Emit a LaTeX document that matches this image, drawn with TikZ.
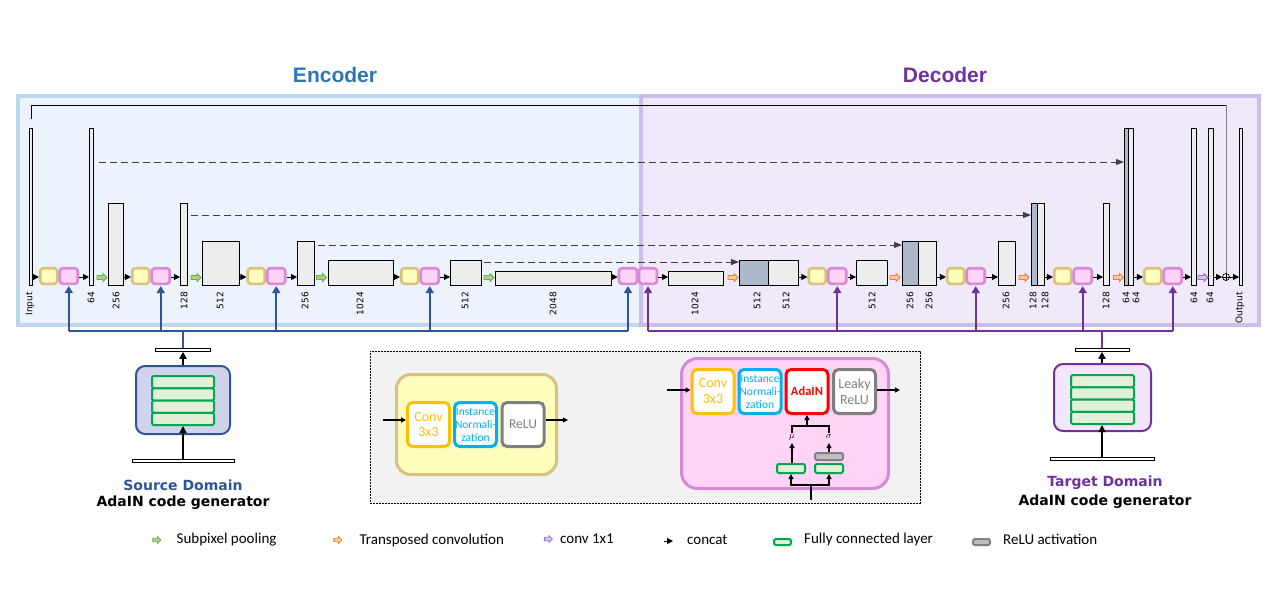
\documentclass[tikz,border=0pt]{standalone}
\usepackage{fontspec}
\setmainfont{Carlito}
\newfontfamily\dvfont{DejaVu Sans}
\newfontfamily\lsfont{Liberation Sans}
\usepackage{tikz}
\usetikzlibrary{shapes,arrows.meta,positioning,calc}
\definecolor{encfill}{RGB}{236,243,253}
\definecolor{encline}{RGB}{189,215,238}
\definecolor{decfill}{RGB}{239,233,249}
\definecolor{decline}{RGB}{204,190,235}
\definecolor{encblue}{RGB}{46,117,182}
\definecolor{decpurple}{RGB}{112,48,160}
\definecolor{fbblue}{RGB}{47,85,151}
\definecolor{blkfill}{RGB}{237,237,237}
\definecolor{catfill}{RGB}{173,185,202}
\definecolor{skipgray}{RGB}{64,64,64}
\definecolor{opyfill}{RGB}{255,255,189}
\definecolor{opyline}{RGB}{216,194,125}
\definecolor{oppfill}{RGB}{255,212,246}
\definecolor{oppline}{RGB}{216,138,216}
\definecolor{poolfill}{RGB}{169,209,142}
\definecolor{poolline}{RGB}{112,173,71}
\definecolor{upfill}{RGB}{248,203,173}
\definecolor{upline}{RGB}{237,125,49}
\definecolor{onexfill}{RGB}{214,196,244}
\definecolor{onexline}{RGB}{150,110,210}
\definecolor{fcfill}{RGB}{226,240,217}
\definecolor{fcline}{RGB}{0,166,80}
\definecolor{actfill}{RGB}{191,191,191}
\definecolor{actline}{RGB}{128,128,128}
\definecolor{srcfill}{RGB}{207,212,236}
\definecolor{tgtfill}{RGB}{241,230,250}
\definecolor{leggray}{RGB}{242,242,242}
\definecolor{convc}{RGB}{255,192,0}
\definecolor{normc}{RGB}{0,176,240}
\definecolor{reluc}{RGB}{128,128,128}
\definecolor{adainc}{RGB}{255,0,0}
\newcommand{\numfont}{\dvfont\fontsize{9}{9}\selectfont}
\newcommand{\genfont}{\dvfont\bfseries\fontsize{14}{14}\selectfont}

\begin{document}
\begin{tikzpicture}[x=1pt, y=-1pt,
    bg/.style={draw=#1line, fill=#1fill, line width=3.5pt, inner sep=0pt, anchor=north west},
    blk/.style={draw, line width=0.8pt, fill=blkfill, inner sep=0pt, anchor=south west},
    opy/.style={draw=opyline, fill=opyfill, line width=2.6pt, rounded corners=3pt, minimum width=17pt, minimum height=15.6pt, inner sep=0pt},
    opp/.style={opy, draw=oppline, fill=oppfill, minimum width=18pt},
    cat/.style={line width=0.8pt, -{Triangle[length=6pt, width=6pt]}},
    skip/.style={draw=skipgray, line width=0.8pt, dash pattern=on 7pt off 4pt, -{Triangle[length=8pt, width=6pt]}},
    num/.style={font=\numfont, rotate=90, anchor=east, inner sep=0pt},
    harr/.style={single arrow, draw=#1line, fill=#1fill, line width=0.8pt, minimum height=10pt, inner sep=1.6pt, single arrow head extend=2pt},
    fb/.style={draw=#1, line width=2pt},
    fbarr/.style={fb=#1, -{Triangle[length=7pt, width=8pt]}, shorten >=1pt},
    genbox/.style={draw=#1, line width=2pt, rounded corners=9pt, minimum width=94pt, minimum height=68pt},
    fcrow/.style={draw=fcline, fill=fcfill, line width=2pt, rounded corners=1.5pt, minimum width=62pt, minimum height=12.25pt, inner sep=0pt},
    bar/.style={draw, fill=white, line width=0.6pt, minimum height=3pt, inner sep=0pt},
    genarr/.style={line width=1.6pt, -{Triangle[length=7pt, width=7pt]}},
    ibox/.style={draw=#1, text=#1, fill=white, line width=3pt, rounded corners=5pt, minimum width=42pt, minimum height=44pt, inner sep=0pt, align=center, font=\fontsize{14}{16}\selectfont},
    smarr/.style={line width=1.4pt, -{Triangle[length=5pt, width=5pt]}},
    smline/.style={line width=1.4pt},
    fcsm/.style={draw=fcline, fill=fcfill, line width=2pt, rounded corners=2pt, minimum width=28pt, minimum height=9pt, inner sep=0pt},
    legtxt/.style={font=\fontsize{15}{15}\selectfont, inner sep=0pt},
]
    \useasboundingbox (0,0) rectangle (1280,605);

    % encoder / decoder panels
    \node[bg=enc, minimum width=623pt, minimum height=229pt] (encbg) at (16,94) {};
    \node[bg=dec, minimum width=618pt, minimum height=229pt] (decbg) at (639,94) {};
    \node[font=\lsfont\bfseries\fontsize{21}{21}\selectfont, text=encblue] (enctitle) at (335,75) {Encoder};
    \node[font=\lsfont\bfseries\fontsize{21}{21}\selectfont, text=decpurple] (dectitle) at (945,75) {Decoder};

    % feature blocks: name/left/right/top/fill
    \foreach \n/\xa/\xb/\yt/\c in {inp/29/32/129/blkfill, e64/89/93/129/blkfill, e256a/108/123/204/blkfill,
        e128/180/187/204/blkfill, e512a/202/239/242/blkfill, e256b/297/314/242/blkfill,
        e1024/328/393/261/blkfill, e512b/450/481/261/blkfill, e2048/495/611/272/blkfill,
        d1024/668/723/272/blkfill, d512s/739/768/261/catfill, d512a/768/798/261/blkfill,
        d512b/856/887/261/blkfill, d256s/902/918/242/catfill, d256a/918/936/242/blkfill,
        d256b/998/1015/242/blkfill, d128s/1031/1037/204/catfill, d128a/1037/1044/204/blkfill,
        d128b/1103/1109/204/blkfill, d64s/1124/1128/129/catfill, d64a/1128/1133/129/blkfill,
        d64b/1191/1196/129/blkfill, d64c/1208/1213/129/blkfill, out/1239/1242/129/blkfill} {
        \pgfmathsetmacro\w{\xb-\xa}
        \pgfmathsetmacro\h{286-\yt}
        \node[blk, fill=\c, minimum width=\w pt, minimum height=\h pt] (\n) at (\xa,286) {};
    }

    % channel numbers
    \foreach \x/\t in {30/Input, 91/64, 116/256, 184/128, 220/512, 305/256, 360/1024, 465/512, 553/2048,
        695/1024, 757/512, 786/512, 872/512, 910/256, 929/256, 1006/256, 1033/128, 1045/128,
        1106/128, 1126/64, 1136/64, 1194/64, 1210/64, 1240/Output} {
        \node[num] at (\x,292) {\t};
    }

    % conv blocks
    \foreach \i/\xa in {1/39, 2/131, 3/246.5, 4/400, 7/807.5, 8/946, 9/1053, 10/1143} {
        \node[opy] (y\i) at (\xa+9.75,276) {};
        \node[opp] (p\i) at (\xa+29.75,276) {};
    }
    \node[opp] (p5) at (628,276) {};
    \node[opp] (p6) at (648,276) {};

    % residual sum
    \node[circle, draw, line width=0.7pt, minimum size=7pt, inner sep=0pt] (sum) at (1226,277) {};
    \draw[line width=0.7pt] (sum.north) -- (sum.south) (sum.west) -- (sum.east);
    \draw[line width=0.8pt] (inp.north |- 0,119) -- (inp.north |- 0,105) -- (sum.north |- 0,105);
    \draw[line width=0.8pt, gray] (sum.north |- 0,105) -- (sum.north);

    % concat arrows
    \foreach \a/\b in {inp/y1, p1/e64, e256a/y2, p2/e128, e512a/y3, p3/e256b, e1024/y4, p4/e512b,
        e2048/p5, p6/d1024, d512a/y7, p7/d512b, d256a/y8, p8/d256b, d128a/y9, p9/d128b,
        d64a/y10, p10/d64b, d64c/sum, sum/out} {
        \draw[cat] (\a.east |- 0,277) -- (\b.west |- 0,277);
    }

    % pooling / upsampling / 1x1
    \foreach \n/\x/\s in {g1/101/pool, g2/195/pool, g3/320.5/pool, g4/488/pool,
        u1/732/up, u2/894/up, u3/1023/up, u4/1117.5/up, c1/1202/onex} {
        \node[harr=\s] (\n) at (\x,277.5) {};
    }

    % skip connections
    \foreach \a/\b/\y/\s in {e64/d64s/162/5, e128/d128s/215/3, e256b/d256s/245/3, e512b/d512s/262/2} {
        \draw[skip, shorten <=\s pt] (\a.east |- 0,\y) -- (\b.west |- 0,\y);
    }

    % AdaIN codes to the blocks
    \coordinate (ebus) at (0,331);
    \coordinate (dbus) at (0,331);
    \draw[fb=fbblue] (p1.south |- ebus) -- (p5.south |- ebus);
    \foreach \p in {p1,p2,p3,p4,p5} {
        \draw[fbarr=fbblue] (\p.south |- ebus) -- (\p.south);
    }
    \draw[fb=decpurple] (p6.south |- dbus) -- (p10.south |- dbus);
    \foreach \p in {p6,p7,p8,p9,p10} {
        \draw[fbarr=decpurple] (\p.south |- dbus) -- (\p.south);
    }

    % source domain generator
    \node[bar, minimum width=55pt] (srcbar) at (183,350) {};
    \node[genbox=fbblue, fill=srcfill] (srcgen) at (183,400) {};
    \foreach \r in {1,...,4} {
        \node[fcrow] (sfc\r) at (183,369.875+12.25*\r) {};
    }
    \node[bar, minimum width=102pt] (srcin) at (183,461) {};
    \draw[genarr] (srcin.north) -- (sfc4.south);
    \draw[genarr] (srcgen.north) -- (srcbar.south);
    \draw[fb=fbblue] (srcbar.north) -- (srcbar.north |- ebus);
    \node[font=\genfont, text=fbblue] (srclbl) at (183,485) {Source Domain};
    \node[font=\genfont] (srcsub) at (183,503) {AdaIN code generator};

    % target domain generator
    \node[bar, minimum width=54pt] (tgtbar) at (1102,350) {};
    \node[genbox=decpurple, fill=tgtfill, minimum width=97pt, minimum height=67pt] (tgtgen) at (1102.5,397.5) {};
    \foreach \r in {1,...,4} {
        \node[fcrow, minimum width=63pt] (tfc\r) at (1102.5,368.875+12.25*\r) {};
    }
    \node[bar, minimum width=104pt] (tgtin) at (1102,459) {};
    \draw[genarr] (tgtin.north) -- (tfc4.south -| tgtin.north);
    \draw[genarr] (tgtgen.north -| tgtbar.south) -- (tgtbar.south);
    \draw[fb=decpurple] (tgtbar.north) -- (tgtbar.north |- dbus);
    \node[font=\genfont, text=decpurple] (tgtlbl) at (1105,483) {Target Domain};
    \node[font=\genfont] (tgtsub) at (1105,502) {AdaIN code generator};

    % block details
    \node[draw, dash pattern=on 2pt off 1pt, line width=0.6pt, fill=leggray, minimum width=550pt, minimum height=152pt, inner sep=0pt, anchor=north west] (legbox) at (370,351) {};

    \node[draw=opyline, fill=opyfill, line width=3pt, rounded corners=14pt, minimum width=160pt, minimum height=100pt] (encop) at (476.5,424.5) {};
    \node[ibox=convc] (conv) at (428.5,424.5) {Conv\\3x3};
    \node[ibox=normc, font=\fontsize{11.5}{13}\selectfont] (inorm) at (475.5,424.5) {Instance\\Normali-\\zation};
    \node[ibox=reluc, font=\fontsize{13.5}{16}\selectfont] (relu) at (523,424.5) {ReLU};
    \coordinate (encin) at (383,420);
    \coordinate (encout) at (568,420);
    \draw[smarr] (encin) -- (conv.west |- encin);
    \draw[smarr] (relu.east |- encout) -- (encout);

    \node[draw=oppline, fill=oppfill, line width=3pt, rounded corners=16pt, minimum width=207pt, minimum height=130pt] (decop) at (785,423.5) {};
    \node[ibox=convc] (conv2) at (713,391.5) {Conv\\3x3};
    \node[ibox=normc, font=\fontsize{11.5}{13}\selectfont] (inorm2) at (760,391.5) {Instance\\Normali-\\zation};
    \node[ibox=adainc, font=\bfseries\fontsize{12.5}{14}\selectfont] (adain) at (807,391.5) {AdaIN};
    \node[ibox=reluc] (lrelu) at (854.5,391.5) {Leaky\\ReLU};
    \coordinate (decin) at (667,390);
    \coordinate (decout) at (900,390);
    \draw[smarr] (decin) -- (conv2.west |- decin);
    \draw[smarr] (lrelu.east |- decout) -- (decout);

    \node[fcsm] (fcmu) at (791,468.5) {};
    \node[fcsm, draw=actline, fill=actfill, minimum height=7pt] (relact) at (829,456.5) {};
    \node[fcsm] (fcsig) at (829,468.5) {};
    \node[inner sep=0pt, font=\fontsize{9}{9}\selectfont] (mulbl) at (792,437) {$\mu$};
    \node[inner sep=0pt, font=\fontsize{9}{9}\selectfont] (siglbl) at (829,437) {$\sigma$};
    \draw[smarr] (fcmu.north -| mulbl.south) -- ++(0,-20);
    \draw[smarr] (relact.north -| siglbl.south) -- ++(0,-9);
    \coordinate (brk) at (810,426);
    \draw[smline] (mulbl.north |- 0,433) -- (mulbl.north |- brk) -- (siglbl.north |- brk) -- (siglbl.north |- 0,433);
    \draw[smarr] (adain.south |- brk) -- (adain.south);
    \coordinate (fcin) at (811,500);
    \coordinate (fcsplit) at (811,485);
    \draw[smline] (fcin) -- (fcsplit);
    \draw[smarr] (fcsplit) -| (fcmu.south);
    \draw[smarr] (fcsplit) -| (fcsig.south);

    % legend
    \node[harr=pool, minimum height=8pt, inner sep=1.3pt, single arrow head extend=1.6pt] (lgpool) at (156,540) {};
    \node[legtxt, right=15pt of lgpool] (lgt1) {Subpixel pooling};
    \node[harr=up, minimum height=8pt, inner sep=1.3pt, single arrow head extend=1.6pt] (lgup) at (337,540) {};
    \node[legtxt, right=17pt of lgup] (lgt2) {Transposed convolution};
    \node[harr=onex, minimum height=8pt, inner sep=1.3pt, single arrow head extend=1.6pt] (lgonex) at (547.5,539) {};
    \node[legtxt, right=7pt of lgonex] (lgt3) {conv 1x1};
    \coordinate (lgcata) at (664,541);
    \coordinate (lgcatb) at (673,541);
    \draw[cat] (lgcata) -- (lgcatb);
    \node[legtxt, anchor=west] (lgt4) at (687,540) {concat};
    \node[fcsm, minimum width=17pt, minimum height=6pt] (lgfc) at (782.5,542) {};
    \node[legtxt, anchor=west] (lgt5) at (804,539) {Fully connected layer};
    \node[fcsm, draw=actline, fill=actfill, minimum width=17pt, minimum height=6pt] (lgact) at (981.5,542) {};
    \node[legtxt, anchor=west] (lgt6) at (1003,539) {ReLU activation};
\end{tikzpicture}
\end{document}
